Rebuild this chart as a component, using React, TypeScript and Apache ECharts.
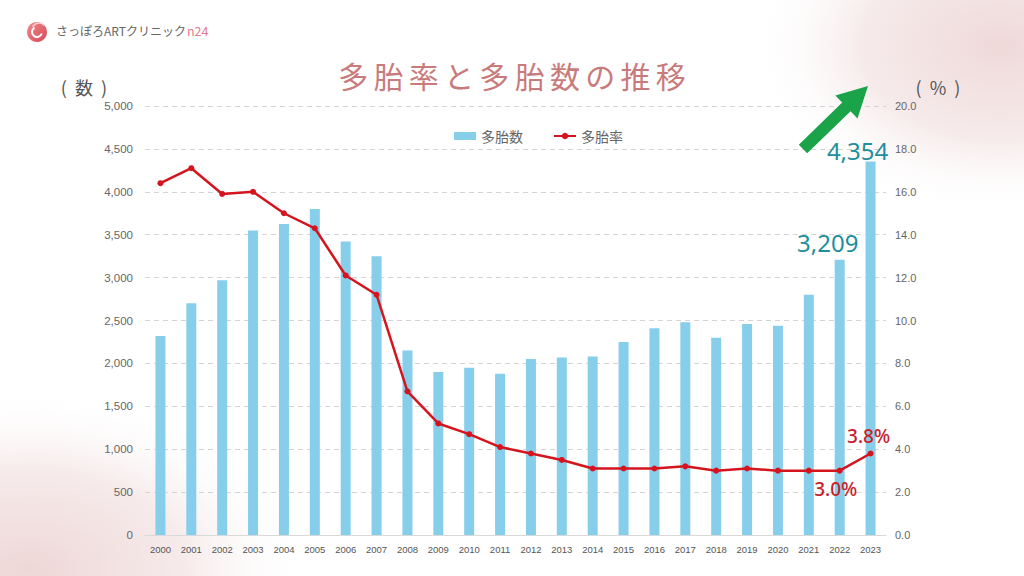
import React, { useEffect, useRef } from "react";
import * as echarts from "echarts";

// 年別の多胎数（件）と多胎率（%）
const years = [
  "2000", "2001", "2002", "2003", "2004", "2005", "2006", "2007", "2008", "2009", "2010", "2011",
  "2012", "2013", "2014", "2015", "2016", "2017", "2018", "2019", "2020", "2021", "2022", "2023",
];
const multipleBirths = [
  2320, 2700, 2970, 3550, 3625, 3800, 3420, 3250, 2150, 1900, 1950, 1880,
  2050, 2070, 2080, 2250, 2410, 2480, 2300, 2460, 2440, 2800, 3209, 4354,
];
const multipleRate = [
  16.4, 17.1, 15.9, 16.0, 15.0, 14.3, 12.1, 11.2, 6.7, 5.2, 4.7, 4.1,
  3.8, 3.5, 3.1, 3.1, 3.1, 3.2, 3.0, 3.1, 3.0, 3.0, 3.0, 3.8,
];
const countAxis = { min: 0, max: 5000, interval: 500 };
const rateAxis = { min: 0, max: 20, interval: 2 };
const titleText = "多胎率と多胎数の推移";

const JP = '"Noto Sans CJK JP", "Noto Sans", sans-serif';
const NUM = '"Liberation Sans", Arial, sans-serif';

export default function App() {
  const ref = useRef<HTMLDivElement>(null);

  useEffect(() => {
    if (!ref.current) return;
    const chart = echarts.init(ref.current, undefined, { renderer: "svg" });
    const last = years.length - 1;

    const barData = multipleBirths.map((v, i) => {
      if (i === last) {
        return { value: v, label: { show: true, offset: [-13, 3] } };
      }
      if (i === last - 1) {
        return { value: v, label: { show: true, offset: [-12, -3] } };
      }
      return v;
    });

    const rateData = multipleRate.map((v, i) => {
      if (i === last) {
        return { value: v, label: { show: true, position: "top", offset: [-2, 0] } };
      }
      if (i === last - 1) {
        return { value: v, label: { show: true, position: "bottom", offset: [-4, 1] } };
      }
      return v;
    });

    // タイトルは一文字ずつ字間を空けて配置
    const titleStep = 35.3;
    const titleStart = 512 - (titleStep * (titleText.length - 1)) / 2;
    const titleChars = Array.from(titleText).map((ch, i) => ({
      type: "text",
      x: titleStart + i * titleStep,
      y: 75,
      style: {
        text: ch,
        fill: "#c97b7b",
        font: `30px ${JP}`,
        align: "center",
        verticalAlign: "middle",
      },
    }));

    chart.setOption({
      animation: false,
      backgroundColor: "#ffffff",
      textStyle: { fontFamily: JP },
      grid: { left: 145, right: 138, top: 106, bottom: 41 },
      legend: {
        left: 449,
        top: 124,
        itemGap: 30,
        itemWidth: 22,
        itemHeight: 8,
        textStyle: { color: "#666", fontSize: 14, fontFamily: JP },
        data: [
          { name: "多胎数", icon: "rect" },
          { name: "多胎率" },
        ],
      },
      xAxis: {
        type: "category",
        data: years,
        axisTick: { show: false },
        axisLine: { lineStyle: { color: "#d9d9d9", width: 1 } },
        axisLabel: { interval: 0, color: "#555", fontSize: 9.5, fontFamily: NUM, margin: 9 },
      },
      yAxis: [
        {
          type: "value",
          ...countAxis,
          axisLine: { show: false },
          axisTick: { show: false },
          splitLine: { lineStyle: { color: "#d4d4d4", type: [5, 4] } },
          axisLabel: {
            color: "#666",
            fontSize: 11.5,
            fontFamily: NUM,
            margin: 12,
            formatter: (v: number) => v.toLocaleString("en-US"),
          },
        },
        {
          type: "value",
          ...rateAxis,
          position: "right",
          axisLine: { show: false },
          axisTick: { show: false },
          splitLine: { show: false },
          axisLabel: {
            color: "#666",
            fontSize: 11,
            fontFamily: NUM,
            margin: 9,
            formatter: (v: number) => v.toFixed(1),
          },
        },
      ],
      series: [
        {
          name: "多胎数",
          type: "bar",
          yAxisIndex: 0,
          barWidth: 10,
          itemStyle: { color: "#87ceeb" },
          label: {
            show: false,
            position: "top",
            distance: 2,
            color: "#1f8e9f",
            fontSize: 24,
            fontFamily: '"Noto Sans", sans-serif',
            formatter: (p: any) => Number(p.value).toLocaleString("en-US"),
          },
          data: barData,
          z: 2,
        },
        {
          name: "多胎率",
          type: "line",
          yAxisIndex: 1,
          symbol: "circle",
          symbolSize: 6,
          lineStyle: { color: "#d6141e", width: 2.5 },
          itemStyle: { color: "#d6141e" },
          label: {
            show: false,
            color: "#c81e2a",
            fontSize: 19,
            fontWeight: 500,
            fontFamily: '"Noto Sans", sans-serif',
            formatter: (p: any) => `${Number(p.value).toFixed(1)}%`,
          },
          data: rateData,
          z: 3,
        },
      ],
      graphic: [
        // 背景のやわらかなピンクのにじみ
        {
          type: "ellipse",
          shape: { cx: 1000, cy: 45, rx: 250, ry: 170 },
          style: {
            fill: new echarts.graphic.RadialGradient(0.5, 0.5, 0.5, [
              { offset: 0, color: "rgba(236,210,210,0.85)" },
              { offset: 0.55, color: "rgba(240,220,220,0.6)" },
              { offset: 1, color: "rgba(255,255,255,0)" },
            ]),
          },
          silent: true,
          z: -10,
        },
        {
          type: "ellipse",
          shape: { cx: 30, cy: 570, rx: 280, ry: 180 },
          style: {
            fill: new echarts.graphic.RadialGradient(0.5, 0.5, 0.5, [
              { offset: 0, color: "rgba(236,210,210,0.9)" },
              { offset: 0.55, color: "rgba(240,220,220,0.6)" },
              { offset: 1, color: "rgba(255,255,255,0)" },
            ]),
          },
          silent: true,
          z: -10,
        },
        // ロゴ
        {
          type: "circle",
          shape: { cx: 37, cy: 32, r: 10 },
          style: {
            fill: new echarts.graphic.LinearGradient(0, 0, 1, 1, [
              { offset: 0, color: "#f08a8a" },
              { offset: 1, color: "#d9485a" },
            ]),
          },
        },
        {
          type: "arc",
          shape: { cx: 37, cy: 32, r: 5, startAngle: 0.3, endAngle: 4.2 },
          style: { stroke: "#ffffff", lineWidth: 2, fill: "none" },
        },
        {
          type: "arc",
          shape: { cx: 39, cy: 30, r: 7, startAngle: 3.6, endAngle: 5.6 },
          style: { stroke: "#fbd3d3", lineWidth: 1.5, fill: "none" },
        },
        {
          type: "text",
          left: 56,
          top: 24,
          style: {
            text: "{a|さっぽろARTクリニック}{b|n24}",
            rich: {
              a: { fill: "#666", fontSize: 12, fontFamily: JP },
              b: { fill: "#e27b92", fontSize: 12.5, fontFamily: JP, padding: [0, 0, 0, 1] },
            },
          },
        },
        // タイトル
        ...titleChars,
        // 軸の単位
        {
          type: "text",
          x: 84,
          y: 87,
          style: {
            text: "(  数  )",
            fill: "#555",
            font: `18px ${JP}`,
            align: "center",
            verticalAlign: "middle",
          },
        },
        {
          type: "text",
          x: 938,
          y: 87,
          style: {
            text: "(  %  )",
            fill: "#555",
            font: `18px ${JP}`,
            align: "center",
            verticalAlign: "middle",
          },
        },
        // 増加を示す矢印
        {
          type: "polygon",
          shape: {
            points: [
              [807.2, 153.3],
              [850.6, 111.2],
              [857.5, 118.4],
              [868, 86],
              [835.3, 95.4],
              [842.2, 102.6],
              [798.8, 144.7],
            ],
          },
          style: { fill: "#1ba34a" },
          z: 10,
        },
      ],
    });

    return () => chart.dispose();
  }, []);

  return (
    <div
      ref={ref}
      style={{ position: "absolute", left: 0, top: 0, width: 1024, height: 576 }}
    />
  );
}
